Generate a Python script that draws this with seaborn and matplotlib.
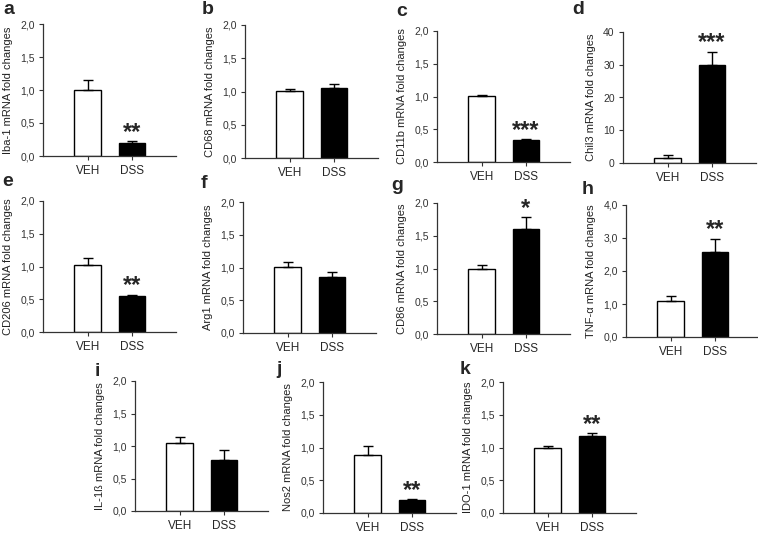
import numpy as np
import pandas as pd
import seaborn as sns
import matplotlib.pyplot as plt
from matplotlib.ticker import FuncFormatter

sns.set_style("ticks")
plt.rcParams['font.family'] = ['Liberation Sans', 'DejaVu Sans']

# panel data
letters = ["a", "b", "c", "d", "e", "f", "g", "h", "i", "j", "k"]
ylabels = ["Iba-1 mRNA fold changes", "CD68 mRNA fold changes", "CD11b mRNA fold changes",
           "Chil3 mRNA fold changes", "CD206 mRNA fold changes", "Arg1 mRNA fold changes",
           "CD86 mRNA fold changes", "TNF-\u03b1 mRNA fold changes", "IL-1\u00df mRNA fold changes",
           "Nos2 mRNA fold changes", "IDO-1 mRNA fold changes"]
groups = ["VEH", "DSS"]
veh_mean = [1.00, 1.01, 1.01, 1.5, 1.03, 1.01, 1.00, 1.08, 1.04, 0.89, 1.00]
veh_sem = [0.15, 0.03, 0.02, 0.8, 0.10, 0.07, 0.05, 0.17, 0.10, 0.13, 0.03]
dss_mean = [0.20, 1.05, 0.33, 30.0, 0.55, 0.86, 1.61, 2.58, 0.79, 0.20, 1.18]
dss_sem = [0.02, 0.06, 0.02, 4.0, 0.02, 0.07, 0.18, 0.40, 0.15, 0.01, 0.04]
stars = ["**", "", "***", "***", "**", "", "*", "**", "", "**", "**"]
ymax = [2, 2, 2, 40, 2, 2, 2, 4, 2, 2, 2]
ystep = [0.5, 0.5, 0.5, 10, 0.5, 0.5, 0.5, 1, 0.5, 0.5, 0.5]

# axes placement in pixels: left, top of axis (ymax), bottom (0)
boxes = [(43, 24, 156), (245, 25, 158), (437, 31, 162), (623, 32, 163),
         (43, 201, 332), (243, 202, 333), (437, 203, 334), (626, 205, 337),
         (135, 381, 511), (323, 382, 513), (503, 382, 513)]
letter_pos = [(9, 10), (208, 9), (402, 11), (578, 9),
              (8, 182), (204, 183), (397, 186), (588, 189),
              (97, 371), (279, 370), (465, 370)]

W, H = 758, 534
fig = plt.figure(figsize=(W / 100, H / 100), dpi=100)
axis_col = "#333333"

for i in range(len(letters)):
    x0, yt, yb = boxes[i]
    ax = fig.add_axes([x0 / W, 1 - yb / H, 133 / W, (yb - yt) / H])
    df = pd.DataFrame({"group": groups, "value": [veh_mean[i], dss_mean[i]]})
    sns.barplot(data=df, x="group", y="value", hue="group", palette=["white", "black"],
                edgecolor="black", linewidth=1, width=0.61, errorbar=None, legend=False, ax=ax)
    ax.errorbar([0, 1], [veh_mean[i], dss_mean[i]], yerr=[[0, 0], [veh_sem[i], dss_sem[i]]],
                fmt="none", ecolor="black", elinewidth=1, capsize=3.5, capthick=1)
    ax.set_xlim(-1.02, 2.0)
    ax.set_ylim(0, ymax[i])
    ax.set_yticks(np.arange(0, ymax[i] + ystep[i] / 2, ystep[i]))
    if ymax[i] == 40:
        ax.yaxis.set_major_formatter(FuncFormatter(lambda v, p: f"{v:.0f}"))
    else:
        ax.yaxis.set_major_formatter(FuncFormatter(lambda v, p: f"{v:.1f}".replace(".", ",")))
    sns.despine(ax=ax)
    for s in ["left", "bottom"]:
        ax.spines[s].set_color(axis_col)
        ax.spines[s].set_linewidth(0.9)
    ax.tick_params(axis="y", labelsize=7.5, length=3, width=0.8, color=axis_col, pad=3, labelcolor="#333333")
    ax.tick_params(axis="x", labelsize=8.5, length=3, width=0.8, color=axis_col, pad=3.5)
    ax.set_xlabel("")
    ax.set_ylabel(ylabels[i], fontsize=8, color="#222222", labelpad=5)
    if stars[i]:
        top = dss_mean[i] + dss_sem[i]
        ax.annotate(stars[i], (1, top), xytext=(0, -2), textcoords="offset points",
                    ha="center", va="bottom", fontsize=17, fontweight="bold")
    lx, ly = letter_pos[i]
    fig.text(lx / W, 1 - ly / H, letters[i], fontsize=14, fontweight="bold",
             ha="center", va="center")

fig.savefig("out.png", dpi=100)
